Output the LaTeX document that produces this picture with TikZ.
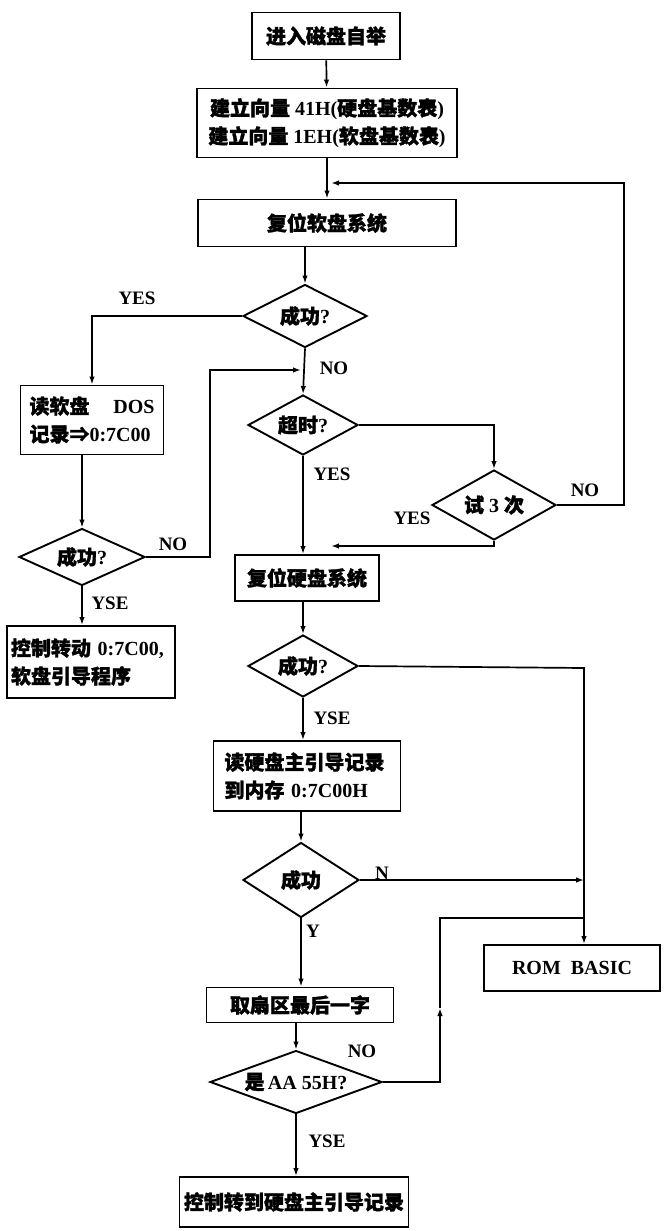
\documentclass[tikz,border=0pt]{standalone}
\usepackage{fontspec}
\setmainfont{Liberation Serif}
\newfontfamily\cjk{Noto Sans CJK SC}[FakeBold=1.5]
\usetikzlibrary{shapes.geometric,arrows.meta}
\begin{document}
\begin{tikzpicture}[x=1pt,y=-1pt,
  every node/.style={font=\bfseries\fontsize{20}{28}\selectfont},
  box/.style 2 args={draw, line width=1.9pt, inner sep=0pt, minimum width=#1, minimum height=#2},
  dia/.style 2 args={draw, line width=1.9pt, shape=diamond, aspect=2.5, inner sep=0pt, minimum width=#1, minimum height=#2},
  lab/.style={inner sep=0pt, font=\bfseries\fontsize{19}{19}\selectfont},
  conn/.style={line width=1.7pt},
  arr/.style={conn, -{Latex[length=8pt,width=5.5pt]}}]
\useasboundingbox (0,0) rectangle (665,1231);
\fill[white] (0,0) rectangle (665,1231);

% nodes
\node[box={148}{47}] (b1) at (326,36) {\cjk 进入磁盘自举};
\node[box={260}{69}, align=center] (b2) at (327,123) {{\cjk 建立向量} 41H({\cjk 硬盘基数表})\\{\cjk 建立向量} 1EH({\cjk 软盘基数表})};
\node[box={258}{47}] (b3) at (327,223) {\cjk 复位软盘系统};
\node[dia={124}{63}] (d1) at (305,316) {{\cjk 成功}?};
\node[box={143}{69}, text width=125pt, align=left] (b4) at (92,420) {{\cjk 读软盘}\hfill DOS\\{\cjk 记录⇒}0:7C00};
\node[dia={110}{60}] (d2) at (303,425) {{\cjk 超时}?};
\node[dia={124}{70}] (d3) at (494,505) {{\cjk 试} 3 {\cjk 次}};
\node[dia={126}{57}] (d4) at (82,557) {{\cjk 成功}?};
\node[box={144}{46}] (b5) at (307,578) {\cjk 复位硬盘系统};
\node[box={168}{72}, text width=160pt, align=left] (b6) at (91,662) {{\cjk 控制转动} 0:7C00,\\{\cjk 软盘引导程序}};
\node[dia={110}{62}] (d5) at (303,666) {{\cjk 成功}?};
\node[box={187}{70}, text width=165pt, align=left] (b7) at (307,776) {{\cjk 读硬盘主引导记录}\\{\cjk 到内存} 0:7C00H};
\node[dia={116}{75}] (d6) at (301,880) {\cjk 成功};
\node[box={187}{35}] (b8) at (300,1005) {\cjk 取扇区最后一字};
\node[dia={172}{63}] (d7) at (296,1082) {{\cjk 是}\,AA 55H?};
\node[box={229}{50}] (b9) at (294,1202) {\cjk 控制转到硬盘主引导记录};
\node[box={176}{46}] (rom) at (572,968) {ROM\enspace BASIC};

% helper coordinates
\coordinate (lR) at (624,183);
\coordinate (lIn) at (331,183);
\coordinate (xL) at (210,370);
\coordinate (jL) at (301,370);
\coordinate (yIn) at (331,546);
\coordinate (rx) at (584,668);
\coordinate (m1) at (440,1008);
\coordinate (j5) at (584,918);

% connectors
\draw[arr] (b1) -- (b2);
\draw[arr] (b2) -- (b3);
\draw[arr] (d1.north |- b3.south) -- (d1.north);
\draw[arr] (d1.west) -| (b4.north);
\draw[arr] (d1.south) -- (d2.north);
\draw[arr] (d2.east) -| (d3.north);
\draw[arr] (d3.east) -| (lR) -- (lIn);
\draw[arr] (d3.south) |- (yIn);
\draw[arr] (d2.south) -- (d2.south |- b5.north);
\draw[arr] (d4.north |- b4.south) -- (d4.north);
\draw[arr] (d4.east) -| (xL) -- (jL);
\draw[arr] (d4.south) -- (d4.south |- b6.north);
\draw[arr] (d5.north |- b5.south) -- (d5.north);
\draw[arr] (d5.south) -- (d5.south |- b7.north);
\draw[arr] (d5.east) -- (rx) -- (rx |- rom.north);
\draw[arr] (d6.north |- b7.south) -- (d6.north);
\draw[arr] (d6.east) -- (rx |- d6.east);
\draw[arr] (d6.south) -- (d6.south |- b8.north);
\draw[arr] (d7.north |- b8.south) -- (d7.north);
\draw[arr] (d7.east) -| (m1);
\draw[conn] (m1) |- (j5);
\draw[arr] (d7.south) -- (d7.south |- b9.north);

% labels
\node[lab] (l1) at (137,298) {YES};
\node[lab] (l2) at (334,368) {NO};
\node[lab] (l3) at (332,474) {YES};
\node[lab] (l4) at (585,490) {NO};
\node[lab] (l5) at (412,518) {YES};
\node[lab] (l6) at (173,544) {NO};
\node[lab] (l7) at (110,603) {YSE};
\node[lab] (l8) at (332,718) {YSE};
\node[lab] (l9) at (382,873) {N};
\node[lab] (l10) at (313,931) {Y};
\node[lab] (l11) at (362,1051) {NO};
\node[lab] (l12) at (327,1141) {YSE};
\end{tikzpicture}
\end{document}
